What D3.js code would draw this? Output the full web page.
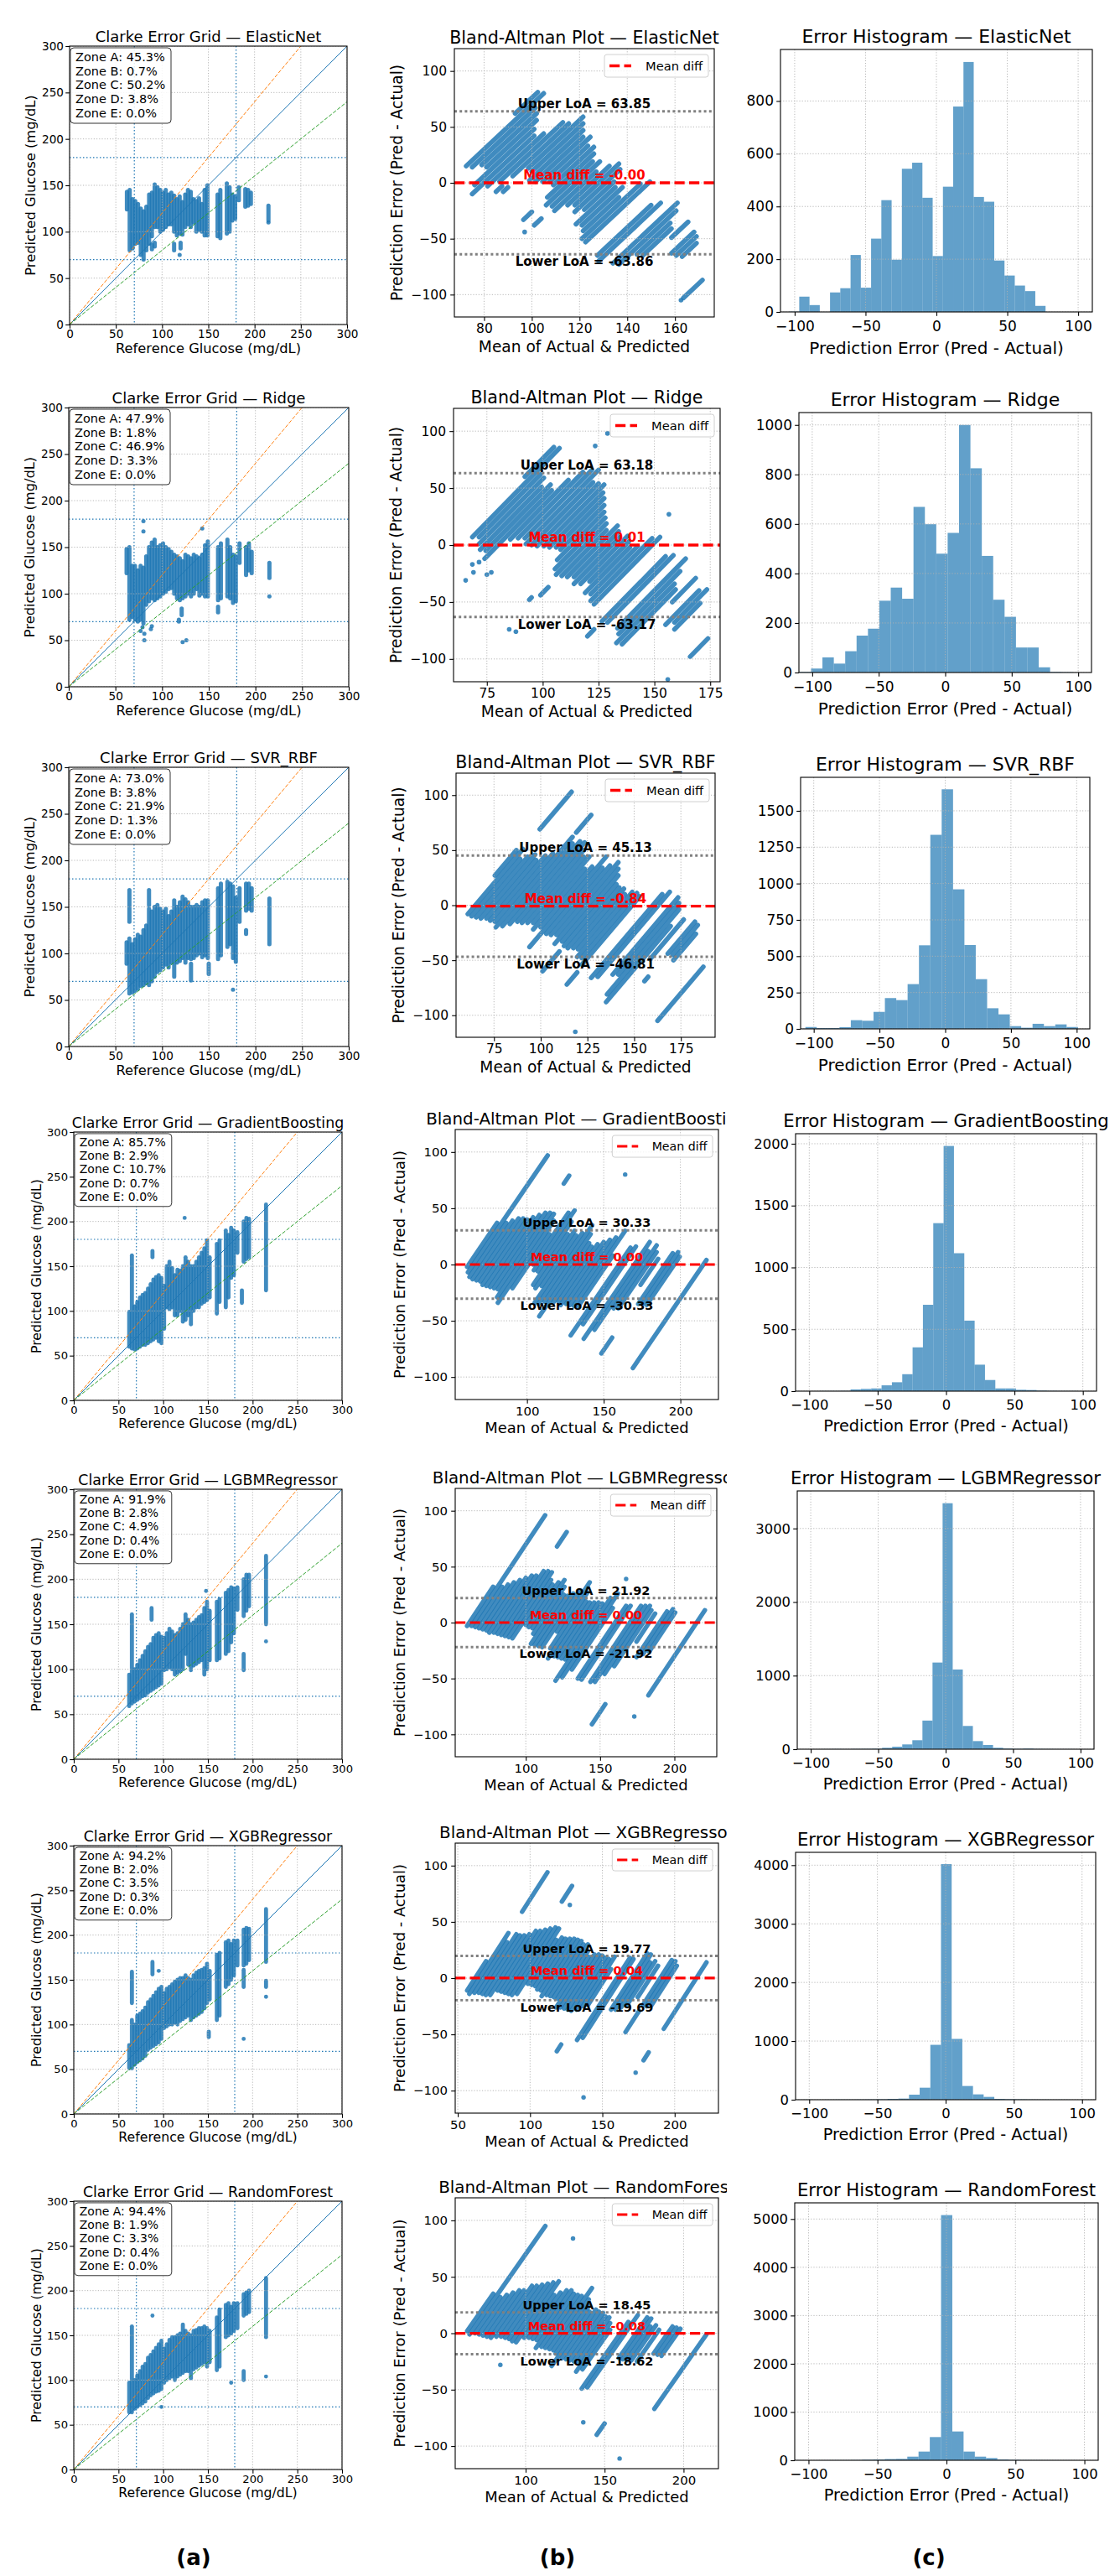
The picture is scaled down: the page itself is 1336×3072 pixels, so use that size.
<!DOCTYPE html>
<html>
<head>
<meta charset="utf-8">
<title>Clarke grid, Bland-Altman and error histograms</title>
<script src="https://cdn.jsdelivr.net/npm/d3@7/dist/d3.min.js"></script>
<style>
  body { margin: 0; background: #fff; }
  svg { display: block; }
</style>
</head>
<body>
<svg id="fig" width="1336" height="3072"></svg>
<script>
"use strict"

// ---- data ----
const MODELS = ["ElasticNet", "Ridge", "SVR_RBF", "GradientBoosting", "LGBMRegressor", "XGBRegressor", "RandomForest"];
const ZONE_NAMES = ["A", "B", "C", "D", "E"];
const ZONE_PCT = [
    [45.3, 0.7, 50.2, 3.8, 0.0],
    [47.9, 1.8, 46.9, 3.3, 0.0],
    [73.0, 3.8, 21.9, 1.3, 0.0],
    [85.7, 2.9, 10.7, 0.7, 0.0],
    [91.9, 2.8, 4.9, 0.4, 0.0],
    [94.2, 2.0, 3.5, 0.3, 0.0],
    [94.4, 1.9, 3.3, 0.4, 0.0]
];
const LOA_UPPER = [63.85, 63.18, 45.13, 30.33, 21.92, 19.77, 18.45];
const MEAN_DIFF = [-0, 0.01, -0.84, 0.00, 0.00, 0.04, -0.08];
const LOA_LOWER = [-63.86, -63.17, -46.81, -30.33, -21.92, -19.69, -18.62];

// reference glucose values; each model has a predicted range [lo, hi] per reference value
const REFS = [62,65,68,71,74,77,80,83,86,89,92,95,98,101,104,107,110,113,116,119,122,125,128,131,134,137,140,143,146,149,152,160,163,170,173,176,179,183,190,193,196,215];

const EN_LO = [124,80,82,87,88,75,70,80,87,95, 105,105,100,102,105,108,108,100,96,98, 97,105,108,105,110,100,102,100,96,96, null, 95,93,98,100,112,114,134,127,128,130,112];
const EN_HI = [143,145,135,133,130,125,122,127,140,142, 151,148,145,142,145,140,142,139,135,138, 132,140,145,143,135,133,136,130,145,150, null, 140,145,152,148,140,138,148,146,145,142,128];
const EN_EXTRA = [[89,81,86],[92,84,88],[113,80,87],[119,75,75],[120,82,88],[215,110,110]];

const RIDGE_LO = [122,72,75,72,70,72,68,88,92,95, 93,95,97,100,102,105,106,100,95,93, 95,97,100,97,100,105,98,100,97,97, null, 93,95,97,95,90,92,133,120,125,122,117];
const RIDGE_HI = [148,150,130,130,125,130,128,140,150,155, 158,150,152,154,150,148,145,142,140,138, 135,142,140,138,142,140,138,142,152,156, null, 150,154,158,150,142,140,154,150,154,145,133];
const RIDGE_EXTRA = [[80,167,167],[80,178,178],[77,60,60],[79,64,64],[81,50,50],[81,57,57],[88,62,62],[89,65,65],[118,70,72],[121,77,84],[122,48,48],[126,50,50],[143,170,170],[160,80,86],[215,97,97]];

const SVR_LO = [89,57,58,60,62,65,66,68,66,70, 75,80,82,85,88,85,90,75,90,92, 95,90,95,94,95,98,100,96,98,95, null, 94,98,107,110,95,91,134,146,148,146,110];
const SVR_HI = [112,116,110,115,120,118,125,130,148,145, 150,152,148,145,148,140,145,157,150,155, 161,158,155,150,150,152,150,155,157,157, null, 170,175,177,175,172,160,170,175,175,170,159];
const SVR_EXTRA = [[65,134,168],[86,152,168],[131,71,89],[150,78,89],[176,61,61],[190,121,125]];

const GB_LO = [60,58,57,58,60,62,62,64,66,68, 70,66,64,80,104,102,104,95,95,100, 88,90,95,85,100,104,104,108,110,112, 115, 97,110,104,115,137,140,165,155,158,160,123];
const GB_HI = [99,162,105,110,115,118,120,125,130,135, 138,140,137,128,150,155,148,140,146,145, 150,160,155,150,150,155,160,165,170,179, 160, 175,179,190,185,193,190,188,200,204,203,219];
const GB_EXTRA = [[88,160,167],[124,204,204],[188,109,123]];

const LGBM_LO = [59,62,64,66,68,70,71,74,76,78, 80,82,84,99,100,102,100,94,96,98, 100,117,105,99,104,106,108,110,94,100, 110, 110,112,117,120,130,140,166,159,165,170,150];
const LGBM_HI = [94,161,100,105,110,115,120,125,128,135, 138,140,136,135,140,145,142,138,140,145, 150,161,155,150,152,155,158,160,168,175, 165, 175,178,185,188,191,190,191,200,205,205,226];
const LGBM_EXTRA = [[87,155,168],[148,187,187],[215,131,131],[190,99,117]];

const XGB_LO = [51,51,55,58,60,62,65,72,74,76, 78,80,84,96,98,100,100,102,100,104, 106,108,110,105,108,110,112,114,118,124, 128, 105,110,142,145,150,155,166,166,168,172,170];
const XGB_HI = [77,105,100,110,112,115,119,125,128,132, 136,140,142,135,140,142,145,148,150,152, 152,155,152,150,155,158,160,161,163,168, 160, 178,180,192,194,190,194,194,206,208,207,229];
const XGB_EXTRA = [[65,124,159],[88,156,170],[95,160,160],[151,86,92],[190,142,161],[190,84,84],[215,142,149],[215,131,131]];

const RF_LO = [64,64,68,70,72,74,76,80,83,85, 87,88,90,97,100,102,104,100,104,106, 108,110,110,102,112,114,116,118,120,115, 120, 111,115,148,150,152,155,158,172,174,176,148];
const RF_HI = [97,160,100,105,110,115,118,125,128,132, 136,140,144,135,140,145,148,148,150,152, 162,155,152,150,155,156,158,158,160,158, 155, 170,179,184,186,182,186,186,196,198,200,214];
const RF_EXTRA = [[88,172,172],[215,104,104],[190,100,110],[176,97,97],[98,70,70]];

// histogram: 25 equal bins between the error range ends
const HIST_RANGE = [[-104, 77], [-118, 96], [-115, 101], [-92.5, 96.5], [-92, 95], [-105, 90.4], [-110, 94]];
const EN_COUNTS = [1,58,26,0,74,90,216,92,278,424,198,543,566,433,212,475,779,948,436,418,195,138,100,79,23];
const RIDGE_COUNTS = [1,2,16,61,36,86,149,177,290,343,298,669,599,480,564,1000,825,471,294,225,101,101,21,2,1];
const SVR_COUNTS = [1,13,6,6,12,60,56,117,212,198,308,575,1335,1648,960,577,342,142,100,19,8,35,19,31,13];
const GB_COUNTS = [1,1,2,14,18,22,47,72,137,354,698,1358,1982,1115,570,214,90,22,22,11,9,4,2,1,1];
const LGBM_COUNTS = [1,2,1,3,4,6,19,34,65,122,389,1178,3343,1083,316,110,57,19,8,4,8,3,2,1,1];
const XGB_COUNTS = [1,0,1,2,2,3,4,6,14,19,86,205,936,4018,1037,234,91,48,14,8,5,3,2,1,1];
const RF_COUNTS = [1,0,1,2,3,5,12,17,25,29,75,180,481,5081,597,180,75,46,17,8,4,3,2,1,1];

const CLARKE_TICKS = [0, 50, 100, 150, 200, 250, 300];
const BA_YTICKS = [-100, -50, 0, 50, 100];
const BA_XTICKS = [[80,100,120,140,160],[75,100,125,150,175],[75,100,125,150,175],[100,150,200],[100,150,200],[50,100,150,200],[100,150,200]];
const HIST_XTICKS = [-100, -50, 0, 50, 100];
const HIST_YTICKS = [[0,200,400,600,800],[0,200,400,600,800,1000],[0,250,500,750,1000,1250,1500],[0,500,1000,1500,2000],[0,1000,2000,3000],[0,1000,2000,3000,4000],[0,1000,2000,3000,4000,5000]];
const CAPTIONS = ["(a)", "(b)", "(c)"];

const LO = [EN_LO, RIDGE_LO, SVR_LO, GB_LO, LGBM_LO, XGB_LO, RF_LO];
const HI = [EN_HI, RIDGE_HI, SVR_HI, GB_HI, LGBM_HI, XGB_HI, RF_HI];
const EXTRA = [EN_EXTRA, RIDGE_EXTRA, SVR_EXTRA, GB_EXTRA, LGBM_EXTRA, XGB_EXTRA, RF_EXTRA];
const COUNTS = [EN_COUNTS, RIDGE_COUNTS, SVR_COUNTS, GB_COUNTS, LGBM_COUNTS, XGB_COUNTS, RF_COUNTS];

// ---- layout (pixel boxes of each axes: left, right, top, bottom) ----
const ROWS = [
    {fs: 1,    clarke: [83, 414, 55, 387],    ba: [542, 852, 58, 378],     hist: [931, 1303, 59, 372]},
    {fs: 1,    clarke: [82, 416, 486, 819],   ba: [541, 859, 487, 813],    hist: [953, 1302, 492, 802]},
    {fs: 1,    clarke: [82, 416, 915, 1248],  ba: [544, 853, 922, 1237],   hist: [955, 1300, 927, 1227]},
    {fs: .965, clarke: [88, 408, 1350, 1670], ba: [543, 857, 1347, 1669],  hist: [949, 1308, 1352, 1659]},
    {fs: .965, clarke: [88, 408, 1776, 2098], ba: [543, 855, 1775, 2095],  hist: [951, 1305, 1778, 2086]},
    {fs: .965, clarke: [88, 408, 2201, 2521], ba: [543, 857, 2198, 2520],  hist: [949, 1307, 2209, 2504]},
    {fs: .965, clarke: [88, 408, 2625, 2945], ba: [543, 857, 2621, 2944],  hist: [948, 1310, 2627, 2934]}
];
const CAPTION_X = [231, 665, 1108];
const CAPTION_Y = 3059;
const COL_CLIP = [[0, 440], [440, 867], [880, 1322]];

const FONT = "'DejaVu Sans', sans-serif";
const BLUE = "#1f77b4";
const MARK_OPACITY = 0.85;

const svg = d3.select("#fig");
const defs = svg.append("defs");
let clipCount = 0;

function addClip(x, y, w, h) {
    let id = "clip" + (clipCount++);
    defs.append("clipPath").attr("id", id)
        .append("rect").attr("x", x).attr("y", y).attr("width", w).attr("height", h);
    return "url(#" + id + ")";
}

function box(b) {
    return {l: b[0], r: b[1], t: b[2], b: b[3], w: b[1] - b[0], h: b[3] - b[2], cx: (b[0] + b[1]) / 2, cy: (b[2] + b[3]) / 2};
}

function fmtTick(v) {
    return v < 0 ? "\u2212" + Math.abs(v) : String(v);
}

function fmt2(v) {
    return (v < 0 || Object.is(v, -0)) ? "-" + Math.abs(v).toFixed(2) : v.toFixed(2);
}

function streaksFor(m) {
    let s = [];
    REFS.forEach((r, i) => {
        if (LO[m][i] != null) s.push([r, LO[m][i], HI[m][i]]);
    });
    return s.concat(EXTRA[m]);
}

function drawGrid(g, p, x, y, xt, yt) {
    let gg = g.append("g")
        .attr("stroke", "#b0b0b0").attr("stroke-width", 0.9).attr("stroke-dasharray", "1.2 2");
    gg.selectAll("line.gx").data(xt).join("line").attr("class", "gx")
        .attr("x1", d => x(d)).attr("x2", d => x(d)).attr("y1", p.t).attr("y2", p.b);
    gg.selectAll("line.gy").data(yt).join("line").attr("class", "gy")
        .attr("x1", p.l).attr("x2", p.r).attr("y1", d => y(d)).attr("y2", d => y(d));
}

function drawAxes(g, p, x, y, xt, yt, o) {
    let ax = g.append("g").attr("transform", `translate(0,${p.b})`)
        .call(d3.axisBottom(x).tickValues(xt).tickFormat(fmtTick).tickSize(4.8).tickSizeOuter(0).tickPadding(o.padX));
    let ay = g.append("g").attr("transform", `translate(${p.l},0)`)
        .call(d3.axisLeft(y).tickValues(yt).tickFormat(fmtTick).tickSize(4.8).tickSizeOuter(0).tickPadding(o.padY));
    [ax, ay].forEach(a => {
        a.select(".domain").remove();
        a.attr("font-family", FONT).attr("font-size", o.tickFs);
        a.selectAll(".tick line").attr("stroke", "#000").attr("stroke-width", 1.1);
        a.selectAll(".tick text").attr("fill", "#000");
    });
    g.append("rect")
        .attr("x", p.l).attr("y", p.t).attr("width", p.w).attr("height", p.h)
        .attr("fill", "none").attr("stroke", "#000").attr("stroke-width", 1.1);
}

function labels(g, p, o, col) {
    g.append("text")
        .attr("x", p.cx).attr("y", p.t - o.titleGap)
        .attr("text-anchor", "middle").attr("font-family", FONT).attr("font-size", o.titleFs)
        .attr("clip-path", addClip(COL_CLIP[col][0], 0, COL_CLIP[col][1] - COL_CLIP[col][0], 3072))
        .text(o.title);
    g.append("text")
        .attr("x", p.cx).attr("y", p.b + o.xlabGap)
        .attr("text-anchor", "middle").attr("font-family", FONT).attr("font-size", o.labFs)
        .text(o.xlab);
    if (o.ylab) {
        g.append("text")
            .attr("transform", `translate(${p.l - o.ylabGap},${p.cy}) rotate(-90)`)
            .attr("text-anchor", "middle").attr("dominant-baseline", "central")
            .attr("font-family", FONT).attr("font-size", o.labFs)
            .text(o.ylab);
    }
}

function drawClarke(m) {
    let L = ROWS[m], fs = L.fs, p = box(L.clarke);
    let x = d3.scaleLinear().domain([0, 300]).range([p.l, p.r]);
    let y = d3.scaleLinear().domain([0, 300]).range([p.b, p.t]);
    let g = svg.append("g").attr("class", "clarke");
    let plot = g.append("g").attr("clip-path", addClip(p.l, p.t, p.w, p.h));
    let s = streaksFor(m);

    plot.append("g")
        .attr("stroke", BLUE).attr("stroke-opacity", MARK_OPACITY).attr("stroke-width", 5 * fs).attr("stroke-linecap", "round")
        .selectAll("line").data(s.filter(d => d[2] > d[1])).join("line")
        .attr("x1", d => x(d[0])).attr("x2", d => x(d[0]))
        .attr("y1", d => y(d[1])).attr("y2", d => y(d[2]));
    plot.append("g")
        .attr("fill", BLUE).attr("fill-opacity", MARK_OPACITY)
        .selectAll("circle").data(s.filter(d => d[2] === d[1])).join("circle")
        .attr("cx", d => x(d[0])).attr("cy", d => y(d[1])).attr("r", 2.5 * fs);

    drawGrid(plot, p, x, y, CLARKE_TICKS, CLARKE_TICKS);

    // reference lines y = k x
    let diag = [{k: 1, c: BLUE, dash: null}, {k: 1.2, c: "#ff7f0e", dash: "4.5 2"}, {k: 0.8, c: "#2ca02c", dash: "4.5 2"}];
    plot.selectAll("line.diag").data(diag).join("line").attr("class", "diag")
        .attr("x1", x(0)).attr("y1", y(0))
        .attr("x2", d => x(300)).attr("y2", d => y(300 * d.k))
        .attr("stroke", d => d.c).attr("stroke-width", 1)
        .attr("stroke-dasharray", d => d.dash);
    let th = [70, 180];
    plot.selectAll("line.tv").data(th).join("line").attr("class", "tv")
        .attr("x1", d => x(d)).attr("x2", d => x(d)).attr("y1", p.t).attr("y2", p.b)
        .attr("stroke", BLUE).attr("stroke-width", 1.2).attr("stroke-dasharray", "1.5 2.5");
    plot.selectAll("line.th").data(th).join("line").attr("class", "th")
        .attr("x1", p.l).attr("x2", p.r).attr("y1", d => y(d)).attr("y2", d => y(d))
        .attr("stroke", BLUE).attr("stroke-width", 1.2).attr("stroke-dasharray", "1.5 2.5");

    drawAxes(g, p, x, y, CLARKE_TICKS, CLARKE_TICKS, {tickFs: 13.6 * fs, padX: 2, padY: 2.2});

    // zone summary box
    let bx = p.l + 1, by = p.t + 2 * fs;
    g.append("rect")
        .attr("x", bx).attr("y", by).attr("width", 120 * fs).attr("height", 90 * fs)
        .attr("rx", 4).attr("fill", "#fff").attr("fill-opacity", 0.85)
        .attr("stroke", "#333").attr("stroke-width", 1);
    g.append("g").attr("font-family", FONT).attr("font-size", 14.5 * fs)
        .selectAll("text").data(ZONE_PCT[m]).join("text")
        .attr("x", p.l + 7 * fs).attr("y", (d, i) => p.t + (17.8 + i * 16.7) * fs)
        .text((d, i) => `Zone ${ZONE_NAMES[i]}: ${d.toFixed(1)}%`);

    labels(g, p, {
        title: "Clarke Error Grid \u2014 " + MODELS[m], titleFs: 18 * fs, titleGap: 5,
        xlab: "Reference Glucose (mg/dL)", ylab: "Predicted Glucose (mg/dL)",
        labFs: 16.3 * fs, xlabGap: 34 * fs, ylabGap: 46.6 * fs
    }, 0);
}

function drawBA(m) {
    let L = ROWS[m], fs = L.fs, p = box(L.ba);
    let segs = streaksFor(m).map(d => [[(d[0] + d[1]) / 2, d[1] - d[0]], [(d[0] + d[2]) / 2, d[2] - d[0]]]);
    let ext = d3.extent(segs.flat(), d => d[0]);
    let pad = (ext[1] - ext[0]) * 0.05;
    let x = d3.scaleLinear().domain([ext[0] - pad, ext[1] + pad]).range([p.l, p.r]);
    let y = d3.scaleLinear().domain([-120, 120]).range([p.b, p.t]);
    let g = svg.append("g").attr("class", "ba");
    let plot = g.append("g").attr("clip-path", addClip(p.l, p.t, p.w, p.h));

    plot.append("g")
        .attr("stroke", BLUE).attr("stroke-opacity", MARK_OPACITY).attr("stroke-width", 5.6 * fs).attr("stroke-linecap", "round")
        .selectAll("line").data(segs.filter(d => d[1][1] > d[0][1])).join("line")
        .attr("x1", d => x(d[0][0])).attr("y1", d => y(d[0][1]))
        .attr("x2", d => x(d[1][0])).attr("y2", d => y(d[1][1]));
    plot.append("g")
        .attr("fill", BLUE).attr("fill-opacity", MARK_OPACITY)
        .selectAll("circle").data(segs.filter(d => d[1][1] === d[0][1])).join("circle")
        .attr("cx", d => x(d[0][0])).attr("cy", d => y(d[0][1])).attr("r", 2.8 * fs);

    let xt = BA_XTICKS[m];
    drawGrid(plot, p, x, y, xt, BA_YTICKS);

    let lim = [{v: LOA_UPPER[m], c: "#808080", w: 3, dash: "3 3.2"},
               {v: LOA_LOWER[m], c: "#808080", w: 3, dash: "3 3.2"},
               {v: MEAN_DIFF[m], c: "red", w: 3.3, dash: "12.2 5.3"}];
    plot.selectAll("line.lim").data(lim).join("line").attr("class", "lim")
        .attr("x1", p.l).attr("x2", p.r).attr("y1", d => y(d.v)).attr("y2", d => y(d.v))
        .attr("stroke", d => d.c).attr("stroke-width", d => d.w * fs).attr("stroke-dasharray", d => d.dash);

    let notes = [
        {t: "Upper LoA = " + fmt2(LOA_UPPER[m]), v: LOA_UPPER[m], dy: -4, c: "#000"},
        {t: "Mean diff = " + fmt2(MEAN_DIFF[m]), v: MEAN_DIFF[m], dy: -4, c: "red"},
        {t: "Lower LoA = " + fmt2(LOA_LOWER[m]), v: LOA_LOWER[m], dy: 13.7, c: "#000"}
    ];
    g.append("g").attr("font-family", FONT).attr("font-size", 15 * fs).attr("font-weight", "bold")
        .attr("text-anchor", "middle")
        .selectAll("text").data(notes).join("text")
        .attr("x", p.cx).attr("y", d => y(d.v) + d.dy * fs)
        .attr("fill", d => d.c).text(d => d.t);

    drawAxes(g, p, x, y, xt, BA_YTICKS, {tickFs: 15.5 * fs, padX: 3.2, padY: 4.2});

    // legend
    let lw = 124 * fs, lh = 27 * fs, lx = p.r - 7 - lw, ly = p.t + 7;
    let leg = g.append("g");
    leg.append("rect").attr("x", lx).attr("y", ly).attr("width", lw).attr("height", lh).attr("rx", 3)
        .attr("fill", "#fff").attr("fill-opacity", 0.8).attr("stroke", "#d0d0d0").attr("stroke-width", 1);
    leg.append("line").attr("x1", lx + 6 * fs).attr("x2", lx + 32 * fs).attr("y1", ly + lh / 2).attr("y2", ly + lh / 2)
        .attr("stroke", "red").attr("stroke-width", 3.3 * fs).attr("stroke-dasharray", "12.2 5.3");
    leg.append("text").attr("x", lx + 49 * fs).attr("y", ly + 18.5 * fs)
        .attr("font-family", FONT).attr("font-size", 14.7 * fs).text("Mean diff");

    labels(g, p, {
        title: "Bland-Altman Plot \u2014 " + MODELS[m], titleFs: 20.6 * fs, titleGap: 6,
        xlab: "Mean of Actual & Predicted", ylab: "Prediction Error (Pred - Actual)",
        labFs: 18.6 * fs, xlabGap: 41.7 * fs, ylabGap: 68.7 * fs
    }, 1);
}

function drawHist(m) {
    let L = ROWS[m], fs = L.fs, p = box(L.hist);
    let counts = COUNTS[m], rng = HIST_RANGE[m];
    let bw = (rng[1] - rng[0]) / counts.length;
    let bins = counts.map((c, i) => ({x0: rng[0] + i * bw, x1: rng[0] + (i + 1) * bw, c: c}));
    let x = d3.scaleLinear().domain([-110, 110]).range([p.l, p.r]);
    let y = d3.scaleLinear().domain([0, d3.max(counts) * 1.05]).range([p.b, p.t]);
    let g = svg.append("g").attr("class", "hist");
    let plot = g.append("g").attr("clip-path", addClip(p.l, p.t, p.w, p.h));

    plot.append("g").attr("fill", BLUE).attr("fill-opacity", 0.7)
        .selectAll("rect").data(bins.filter(b => b.c > 0)).join("rect")
        .attr("x", b => x(b.x0)).attr("width", b => x(b.x1) - x(b.x0))
        .attr("y", b => y(b.c)).attr("height", b => y(0) - y(b.c));

    drawGrid(plot, p, x, y, HIST_XTICKS, HIST_YTICKS[m]);
    drawAxes(g, p, x, y, HIST_XTICKS, HIST_YTICKS[m], {tickFs: 17 * fs, padX: 6, padY: 3.2});

    labels(g, p, {
        title: "Error Histogram \u2014 " + MODELS[m], titleFs: 22 * fs, titleGap: 8,
        xlab: "Prediction Error (Pred - Actual)", ylab: null,
        labFs: 20 * fs, xlabGap: 50 * fs
    }, 2);
}

MODELS.forEach((name, m) => {
    drawClarke(m);
    drawBA(m);
    drawHist(m);
});

svg.append("g").attr("font-family", FONT).attr("font-size", 26).attr("font-weight", "bold")
    .attr("text-anchor", "middle")
    .selectAll("text").data(CAPTIONS).join("text")
    .attr("x", (d, i) => CAPTION_X[i]).attr("y", CAPTION_Y)
    .text(d => d);
</script>
</body>
</html>
